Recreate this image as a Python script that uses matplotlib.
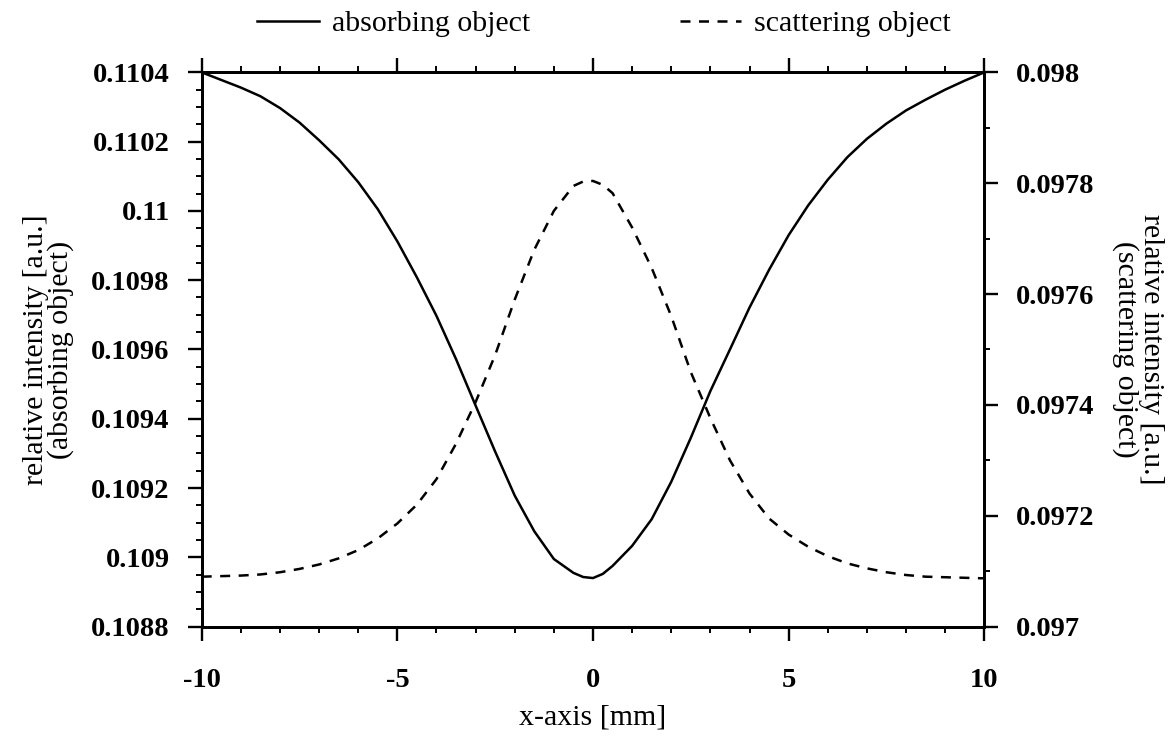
import matplotlib
matplotlib.use("Agg")
import matplotlib.pyplot as plt
from matplotlib.ticker import FixedLocator, MultipleLocator

# positions along the detector [mm]
x_mm = [-10, -9.5, -9, -8.5, -8, -7.5, -7, -6.5, -6, -5.5, -5, -4.5, -4, -3.5,
        -3, -2.5, -2, -1.5, -1, -0.5, -0.25, 0, 0.25, 0.5, 1, 1.5, 2, 2.5, 3,
        3.5, 4, 4.5, 5, 5.5, 6, 6.5, 7, 7.5, 8, 8.5, 9, 9.5, 10]

# absorbing object (left axis)
i_abs = [0.110400, 0.110378, 0.110356, 0.110331, 0.110297, 0.110255, 0.110204,
         0.110149, 0.110083, 0.110005, 0.109912, 0.109808, 0.109697, 0.109572,
         0.109438, 0.109305, 0.109178, 0.109075, 0.108995, 0.108955, 0.108943,
         0.108940, 0.108952, 0.108975, 0.109033, 0.109110, 0.109218, 0.109345,
         0.109480, 0.109600, 0.109721, 0.109830, 0.109930, 0.110016, 0.110090,
         0.110155, 0.110208, 0.110252, 0.110290, 0.110321, 0.110350, 0.110376,
         0.110400]

# scattering object (right axis)
i_sca = [0.097090, 0.097091, 0.097092, 0.097094, 0.097098, 0.097104, 0.097112,
         0.097123, 0.097138, 0.097159, 0.097186, 0.097220, 0.097266, 0.097330,
         0.097405, 0.097490, 0.097590, 0.097680, 0.097750, 0.097795, 0.097803,
         0.097804, 0.097797, 0.097782, 0.097720, 0.097647, 0.097560, 0.097459,
         0.097376, 0.097300, 0.097240, 0.097195, 0.097166, 0.097144, 0.097127,
         0.097114, 0.097105, 0.097098, 0.097093, 0.097090, 0.097089, 0.097088,
         0.097087]

x_ticks = [-10, -5, 0, 5, 10]
x_labels = ["-10", "-5", "0", "5", "10"]
left_ticks = [0.1088, 0.109, 0.1092, 0.1094, 0.1096, 0.1098, 0.11, 0.1102, 0.1104]
left_labels = ["0.1088", "0.109", "0.1092", "0.1094", "0.1096", "0.1098",
               "0.11", "0.1102", "0.1104"]
right_ticks = [0.097, 0.0972, 0.0974, 0.0976, 0.0978, 0.098]
right_labels = ["0.097", "0.0972", "0.0974", "0.0976", "0.0978", "0.098"]

plt.rcParams['font.family'] = ['Liberation Serif', 'DejaVu Serif']
plt.rcParams['axes.unicode_minus'] = False

fig = plt.figure(figsize=(11.76, 7.38), dpi=100)
ax = fig.add_axes([0.1715, 0.151, 0.6655, 0.751])
ax2 = ax.twinx()

lw = 1.8
l1, = ax.plot(x_mm, i_abs, color='black', lw=lw, label='absorbing object')
l2, = ax2.plot(x_mm, i_sca, color='black', lw=lw, linestyle=(0, (4.0, 3.4)),
               label='scattering object')

ax.set_xlim(-10, 10)
ax.set_ylim(0.1088, 0.1104)
ax2.set_ylim(0.097, 0.098)

ax.set_xticks(x_ticks)
ax.set_xticklabels(x_labels)
ax.xaxis.set_minor_locator(MultipleLocator(1))
ax.set_yticks(left_ticks)
ax.set_yticklabels(left_labels)
ax.yaxis.set_minor_locator(MultipleLocator(0.00005))
ax2.set_yticks(right_ticks)
ax2.set_yticklabels(right_labels)
ax2.yaxis.set_minor_locator(FixedLocator([0.0971, 0.0973, 0.0975, 0.0977, 0.0979]))

fs = 20.5      # tick labels
fs_lab = 21.5  # axis titles and legend
for a in (ax, ax2):
    for s in a.spines.values():
        s.set_linewidth(2.0)
    a.tick_params(which='major', direction='out', length=10, width=1.7,
                  labelsize=fs, pad=13)
    a.tick_params(which='minor', direction='out', length=4.5, width=1.4)
ax.tick_params(which='both', top=True)
ax.tick_params(axis='x', which='major', pad=20)
for lab in ax.get_xticklabels() + ax.get_yticklabels() + ax2.get_yticklabels():
    lab.set_fontweight('bold')

ax.set_xlabel('x-axis [mm]', fontsize=fs_lab, labelpad=8)
ax.set_ylabel('relative intensity [a.u.]\n(absorbing object)', fontsize=fs_lab,
              linespacing=0.95, labelpad=12)
ax2.set_ylabel('relative intensity [a.u.]\n(scattering object)', fontsize=fs_lab,
               rotation=270, linespacing=0.95, labelpad=50)

fig.legend(handles=[l1, l2], loc='center left', ncol=2, frameon=False,
           bbox_to_anchor=(0.196, 0.9675), fontsize=fs_lab, handlelength=2.05,
           columnspacing=5.0, handletextpad=0.45, borderpad=0.4)

fig.savefig('out.png', dpi=100)
